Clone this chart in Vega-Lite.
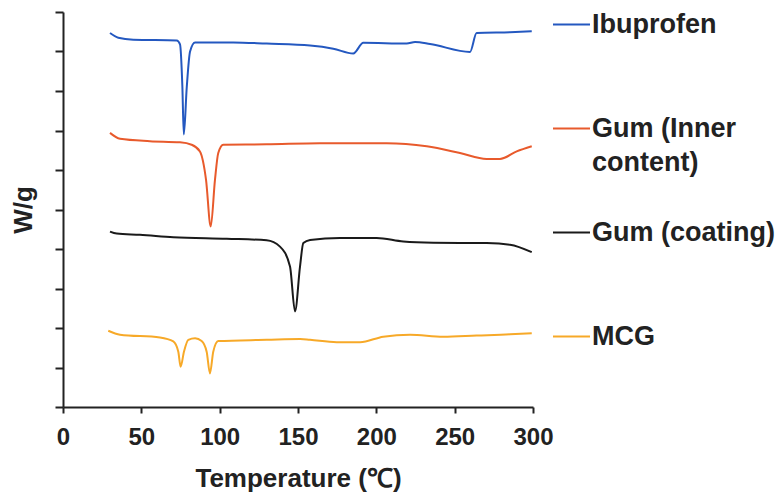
{
  "$schema": "https://vega.github.io/schema/vega-lite/v6.json",
  "width": 470,
  "height": 395,
  "autosize": {"type": "none"},
  "padding": {"left": 63, "top": 12, "right": 248, "bottom": 93},
  "background": "white",
  "config": {
    "view": {"stroke": null},
    "font": "Liberation Sans"
  },
  "data": {
    "values": [
      {"s": "Ibuprofen", "t": 30, "w": 9.47},
      {"s": "Ibuprofen", "t": 35.3, "w": 9.35},
      {"s": "Ibuprofen", "t": 44.9, "w": 9.30},
      {"s": "Ibuprofen", "t": 72.6, "w": 9.28},
      {"s": "Ibuprofen", "t": 74.7, "w": 9.18},
      {"s": "Ibuprofen", "t": 76.2, "w": 8.1},
      {"s": "Ibuprofen", "t": 77.1, "w": 6.9},
      {"s": "Ibuprofen", "t": 79.0, "w": 8.1},
      {"s": "Ibuprofen", "t": 81.1, "w": 9.0},
      {"s": "Ibuprofen", "t": 84.3, "w": 9.23},
      {"s": "Ibuprofen", "t": 108.7, "w": 9.23},
      {"s": "Ibuprofen", "t": 130, "w": 9.20},
      {"s": "Ibuprofen", "t": 157.7, "w": 9.15},
      {"s": "Ibuprofen", "t": 172.5, "w": 9.07},
      {"s": "Ibuprofen", "t": 185.3, "w": 8.95},
      {"s": "Ibuprofen", "t": 191.7, "w": 9.22},
      {"s": "Ibuprofen", "t": 219.4, "w": 9.20},
      {"s": "Ibuprofen", "t": 224.7, "w": 9.24},
      {"s": "Ibuprofen", "t": 234.3, "w": 9.19},
      {"s": "Ibuprofen", "t": 259.8, "w": 8.99},
      {"s": "Ibuprofen", "t": 264, "w": 9.47},
      {"s": "Ibuprofen", "t": 285.3, "w": 9.49},
      {"s": "Ibuprofen", "t": 299.2, "w": 9.51},

      {"s": "Gum (Inner content)", "t": 30, "w": 6.94},
      {"s": "Gum (Inner content)", "t": 36.4, "w": 6.79},
      {"s": "Gum (Inner content)", "t": 55.5, "w": 6.73},
      {"s": "Gum (Inner content)", "t": 74.7, "w": 6.70},
      {"s": "Gum (Inner content)", "t": 82.1, "w": 6.64},
      {"s": "Gum (Inner content)", "t": 87.4, "w": 6.47},
      {"s": "Gum (Inner content)", "t": 91.3, "w": 5.75},
      {"s": "Gum (Inner content)", "t": 94.3, "w": 4.57},
      {"s": "Gum (Inner content)", "t": 97.0, "w": 5.75},
      {"s": "Gum (Inner content)", "t": 99.1, "w": 6.43},
      {"s": "Gum (Inner content)", "t": 102.3, "w": 6.64},
      {"s": "Gum (Inner content)", "t": 130, "w": 6.65},
      {"s": "Gum (Inner content)", "t": 164, "w": 6.68},
      {"s": "Gum (Inner content)", "t": 206.6, "w": 6.68},
      {"s": "Gum (Inner content)", "t": 232.2, "w": 6.60},
      {"s": "Gum (Inner content)", "t": 253.4, "w": 6.43},
      {"s": "Gum (Inner content)", "t": 270.4, "w": 6.28},
      {"s": "Gum (Inner content)", "t": 278.9, "w": 6.28},
      {"s": "Gum (Inner content)", "t": 289.6, "w": 6.47},
      {"s": "Gum (Inner content)", "t": 299.2, "w": 6.60},

      {"s": "Gum (coating)", "t": 30, "w": 4.44},
      {"s": "Gum (coating)", "t": 34.3, "w": 4.39},
      {"s": "Gum (coating)", "t": 49.1, "w": 4.36},
      {"s": "Gum (coating)", "t": 70.4, "w": 4.30},
      {"s": "Gum (coating)", "t": 104.5, "w": 4.26},
      {"s": "Gum (coating)", "t": 130, "w": 4.22},
      {"s": "Gum (coating)", "t": 138.5, "w": 4.06},
      {"s": "Gum (coating)", "t": 144.9, "w": 3.56},
      {"s": "Gum (coating)", "t": 148.1, "w": 2.42},
      {"s": "Gum (coating)", "t": 151.3, "w": 3.56},
      {"s": "Gum (coating)", "t": 153.4, "w": 4.15},
      {"s": "Gum (coating)", "t": 157.7, "w": 4.23},
      {"s": "Gum (coating)", "t": 176.8, "w": 4.28},
      {"s": "Gum (coating)", "t": 200.2, "w": 4.28},
      {"s": "Gum (coating)", "t": 217.2, "w": 4.19},
      {"s": "Gum (coating)", "t": 236.4, "w": 4.16},
      {"s": "Gum (coating)", "t": 270.4, "w": 4.15},
      {"s": "Gum (coating)", "t": 285.3, "w": 4.11},
      {"s": "Gum (coating)", "t": 299.2, "w": 3.92},

      {"s": "MCG", "t": 28.9, "w": 1.93},
      {"s": "MCG", "t": 36.4, "w": 1.83},
      {"s": "MCG", "t": 61.9, "w": 1.76},
      {"s": "MCG", "t": 70.4, "w": 1.66},
      {"s": "MCG", "t": 73.6, "w": 1.40},
      {"s": "MCG", "t": 75.1, "w": 1.02},
      {"s": "MCG", "t": 77.2, "w": 1.40},
      {"s": "MCG", "t": 80.0, "w": 1.70},
      {"s": "MCG", "t": 84.3, "w": 1.74},
      {"s": "MCG", "t": 88.5, "w": 1.67},
      {"s": "MCG", "t": 91.7, "w": 1.40},
      {"s": "MCG", "t": 93.8, "w": 0.85},
      {"s": "MCG", "t": 95.9, "w": 1.40},
      {"s": "MCG", "t": 99.1, "w": 1.67},
      {"s": "MCG", "t": 130, "w": 1.70},
      {"s": "MCG", "t": 151.3, "w": 1.72},
      {"s": "MCG", "t": 157.7, "w": 1.70},
      {"s": "MCG", "t": 174.7, "w": 1.64},
      {"s": "MCG", "t": 189.6, "w": 1.64},
      {"s": "MCG", "t": 204.4, "w": 1.78},
      {"s": "MCG", "t": 221.5, "w": 1.83},
      {"s": "MCG", "t": 242.7, "w": 1.78},
      {"s": "MCG", "t": 264, "w": 1.81},
      {"s": "MCG", "t": 285.3, "w": 1.84},
      {"s": "MCG", "t": 299.2, "w": 1.87}
    ]
  },
  "mark": {"type": "line", "strokeWidth": 2, "interpolate": "monotone"},
  "encoding": {
    "x": {
      "field": "t", "type": "quantitative",
      "scale": {"domain": [0, 300], "nice": false, "zero": false},
      "axis": {
        "title": "Temperature (℃)",
        "values": [0, 50, 100, 150, 200, 250, 300],
        "grid": false,
        "domainColor": "#222", "domainWidth": 2,
        "tickColor": "#222", "tickWidth": 2, "tickSize": 6,
        "labelFont": "Liberation Sans", "labelFontSize": 24, "labelFontWeight": "bold", "labelColor": "#222",
        "labelPadding": 12, "labelFlush": false,
        "titleFont": "Liberation Sans", "titleFontSize": 26, "titleFontWeight": "bold", "titleColor": "#222",
        "titlePadding": 16
      }
    },
    "y": {
      "field": "w", "type": "quantitative",
      "scale": {"domain": [0, 10], "nice": false, "zero": false},
      "axis": {
        "title": "W/g",
        "values": [0, 1, 2, 3, 4, 5, 6, 7, 8, 9, 10],
        "labels": false,
        "grid": false,
        "domainColor": "#222", "domainWidth": 2,
        "tickColor": "#222", "tickWidth": 2, "tickSize": 8,
        "titleFont": "Liberation Sans", "titleFontSize": 26, "titleFontWeight": "bold", "titleColor": "#222",
        "titlePadding": 18
      }
    },
    "color": {
      "field": "s", "type": "nominal",
      "scale": {
        "domain": ["Ibuprofen", "Gum (Inner content)", "Gum (coating)", "MCG"],
        "range": ["#2458c0", "#e85a2c", "#1a1a1a", "#f7a928"]
      },
      "legend": {
        "title": null,
        "orient": "none",
        "legendX": 489,
        "legendY": -7,
        "padding": 0,
        "symbolType": "stroke",
        "symbolSize": 1369,
        "symbolStrokeWidth": 2,
        "labelFont": "Liberation Sans",
        "labelFontSize": 27,
        "labelFontWeight": "bold",
        "labelColor": "#222",
        "labelOffset": 1,
        "labelLimit": 300,
        "rowPadding": 37,
        "labelExpr": "datum.label == 'Gum (Inner content)' ? ['Gum (Inner', 'content)'] : [datum.label, '']",
        "encode": {"labels": {"update": {"lineHeight": {"value": 34}}}}
      }
    }
  }
}
